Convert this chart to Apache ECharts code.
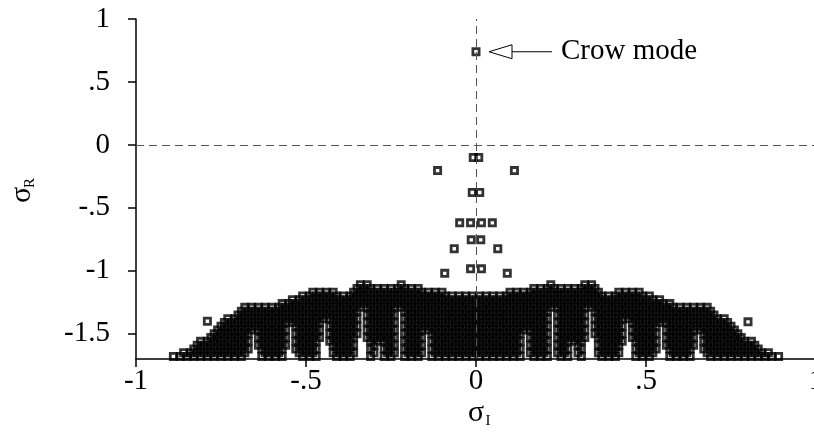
<!DOCTYPE html>
<html>
<head>
<meta charset="utf-8">
<script src="https://cdn.jsdelivr.net/npm/echarts@6/dist/echarts.min.js"></script>
<style>
html, body { margin: 0; padding: 0; background: #fff; }
#chart { width: 814px; height: 432px; }
</style>
</head>
<body>
<div id="chart"></div>
<script>
// Axis ticks and their printed labels
const xTicks = [-1, -0.5, 0, 0.5, 1];
const xTickLabels = ['-1', '-.5', '0', '.5', '1'];
const yTicks = [-1.5, -1, -0.5, 0, 0.5, 1];
const yTickLabels = ['-1.5', '-1', '-.5', '0', '.5', '1'];

// The unstable (crow) eigenvalue
const crowMode = [0, 0.74];

// Isolated stable eigenvalues above the main band (sigma_I, sigma_R)
const isoX = [0.008, -0.008, 0.113, -0.113, 0.011, -0.011, -0.048, -0.016, 0.016, 0.048,
  0.014, -0.014, 0.064, -0.064, 0.016, -0.016, 0.092, -0.092, -0.79, 0.80];
const isoY = [-0.10, -0.10, -0.204, -0.204, -0.378, -0.378, -0.619, -0.619, -0.619, -0.619,
  -0.754, -0.754, -0.825, -0.825, -0.984, -0.984, -1.02, -1.02, -1.40, -1.405];

// Dense band of eigenvalues, listed row by row: sigma_R of each row and its sigma_I values
const rowY = [-1.11, -1.14, -1.17, -1.20, -1.23, -1.26, -1.29, -1.32, -1.35, -1.38,
  -1.41, -1.44, -1.47, -1.50, -1.53, -1.56, -1.59, -1.62, -1.65, -1.68];
const rowX = [
  [-.34,-.32,-.22,.22,.32,.34],
  [-.35,-.33,-.31,-.29,-.27,-.25,-.23,-.21,-.19,-.17,.17,.19,.21,.23,.25,.27,.29,.31,.33,.35],
  [-.48,-.46,-.44,-.42,-.36,-.34,-.32,-.30,-.28,-.26,-.24,-.22,-.20,-.18,-.16,-.14,-.12,-.10,.10,.12,.14,.16,.18,.20,.22,.24,.26,.28,.30,.32,.34,.36,.42,.44,.46,.48],
  [-.51,-.49,-.47,-.45,-.43,-.41,-.39,-.37,-.35,-.33,-.31,-.29,-.27,-.25,-.23,-.21,-.19,-.17,-.15,-.13,-.11,-.09,-.07,-.05,-.03,-.01,.01,.03,.05,.07,.09,.11,.13,.15,.17,.19,.21,.23,.25,.27,.29,.31,.33,.35,.37,.39,.41,.43,.45,.47,.49,.51],
  [-.54,-.52,-.50,-.48,-.46,-.44,-.42,-.40,-.38,-.36,-.34,-.32,-.30,-.28,-.26,-.24,-.22,-.20,-.18,-.16,-.14,-.12,-.10,-.08,-.06,-.04,-.02,0,.02,.04,.06,.08,.10,.12,.14,.16,.18,.20,.22,.24,.26,.28,.30,.32,.34,.36,.38,.40,.42,.44,.46,.48,.50,.52,.54],
  [-.57,-.55,-.53,-.51,-.49,-.47,-.45,-.43,-.41,-.39,-.37,-.35,-.33,-.31,-.29,-.27,-.25,-.23,-.21,-.19,-.17,-.15,-.13,-.11,-.09,-.07,-.05,-.03,-.01,.01,.03,.05,.07,.09,.11,.13,.15,.17,.19,.21,.23,.25,.27,.29,.31,.33,.35,.37,.39,.41,.43,.45,.47,.49,.51,.53,.55,.57],
  [-.68,-.66,-.64,-.62,-.60,-.58,-.56,-.54,-.52,-.50,-.48,-.46,-.44,-.42,-.40,-.38,-.36,-.34,-.32,-.30,-.28,-.26,-.24,-.22,-.20,-.18,-.16,-.14,-.12,-.10,-.08,-.06,-.04,-.02,0,.02,.04,.06,.08,.10,.12,.14,.16,.18,.20,.22,.24,.26,.28,.30,.32,.34,.36,.38,.40,.42,.44,.46,.48,.50,.52,.54,.56,.58,.60,.62,.64,.66,.68],
  [-.69,-.67,-.65,-.63,-.61,-.59,-.57,-.55,-.53,-.51,-.49,-.47,-.45,-.43,-.41,-.39,-.37,-.35,-.31,-.29,-.27,-.25,-.21,-.19,-.17,-.15,-.13,-.11,-.09,-.07,-.05,-.03,-.01,.01,.03,.05,.07,.09,.11,.13,.15,.17,.19,.21,.25,.27,.29,.31,.35,.37,.39,.41,.43,.45,.47,.49,.51,.53,.55,.57,.59,.61,.63,.65,.67,.69],
  [-.70,-.68,-.66,-.64,-.62,-.60,-.58,-.56,-.54,-.52,-.50,-.48,-.46,-.44,-.42,-.40,-.38,-.36,-.32,-.30,-.28,-.26,-.24,-.20,-.18,-.16,-.14,-.12,-.10,-.08,-.06,-.04,-.02,0,.02,.04,.06,.08,.10,.12,.14,.16,.18,.20,.24,.26,.28,.30,.32,.36,.38,.40,.42,.44,.46,.48,.50,.52,.54,.56,.58,.60,.62,.64,.66,.68,.70],
  [-.73,-.71,-.69,-.67,-.65,-.63,-.61,-.59,-.57,-.55,-.53,-.51,-.49,-.47,-.45,-.43,-.41,-.39,-.37,-.35,-.31,-.29,-.27,-.25,-.21,-.19,-.17,-.15,-.13,-.11,-.09,-.07,-.05,-.03,-.01,.01,.03,.05,.07,.09,.11,.13,.15,.17,.19,.21,.25,.27,.29,.31,.35,.37,.39,.41,.43,.45,.47,.49,.51,.53,.55,.57,.59,.61,.63,.65,.67,.69,.71,.73],
  [-.74,-.72,-.70,-.68,-.66,-.64,-.62,-.60,-.58,-.56,-.54,-.52,-.50,-.48,-.46,-.42,-.40,-.38,-.36,-.32,-.30,-.28,-.26,-.24,-.20,-.18,-.16,-.14,-.12,-.10,-.08,-.06,-.04,-.02,0,.02,.04,.06,.08,.10,.12,.14,.16,.18,.20,.24,.26,.28,.30,.32,.36,.38,.40,.42,.46,.48,.50,.52,.54,.56,.58,.60,.62,.64,.66,.68,.70,.72,.74],
  [-.75,-.73,-.71,-.69,-.67,-.65,-.63,-.61,-.59,-.57,-.53,-.51,-.49,-.47,-.43,-.41,-.39,-.37,-.35,-.31,-.29,-.27,-.25,-.21,-.19,-.17,-.15,-.13,-.11,-.09,-.07,-.05,-.03,-.01,.01,.03,.05,.07,.09,.11,.13,.15,.17,.19,.21,.25,.27,.29,.31,.35,.37,.39,.41,.43,.47,.49,.51,.53,.57,.59,.61,.63,.65,.67,.69,.71,.73,.75],
  [-.76,-.74,-.72,-.70,-.68,-.66,-.64,-.62,-.60,-.58,-.56,-.52,-.50,-.48,-.46,-.42,-.40,-.38,-.36,-.32,-.30,-.28,-.26,-.24,-.20,-.18,-.16,-.14,-.12,-.10,-.08,-.06,-.04,-.02,0,.02,.04,.06,.08,.10,.12,.14,.16,.18,.20,.24,.26,.28,.30,.32,.36,.38,.40,.42,.46,.48,.50,.52,.56,.58,.60,.62,.64,.66,.68,.70,.72,.74,.76],
  [-.77,-.75,-.73,-.71,-.69,-.67,-.63,-.61,-.59,-.57,-.53,-.51,-.49,-.47,-.43,-.41,-.39,-.37,-.35,-.31,-.29,-.27,-.25,-.21,-.19,-.17,-.13,-.11,-.09,-.07,-.05,-.03,-.01,.01,.03,.05,.07,.09,.11,.13,.17,.19,.21,.25,.27,.29,.31,.35,.37,.39,.41,.43,.47,.49,.51,.53,.57,.59,.61,.63,.67,.69,.71,.73,.75,.77],
  [-.78,-.76,-.74,-.72,-.70,-.68,-.64,-.62,-.60,-.58,-.56,-.52,-.50,-.48,-.46,-.42,-.40,-.38,-.36,-.32,-.30,-.28,-.26,-.24,-.20,-.18,-.16,-.12,-.10,-.08,-.06,-.04,-.02,0,.02,.04,.06,.08,.10,.12,.16,.18,.20,.24,.26,.28,.30,.32,.36,.38,.40,.42,.46,.48,.50,.52,.56,.58,.60,.62,.64,.68,.70,.72,.74,.76,.78],
  [-.81,-.79,-.77,-.75,-.73,-.71,-.69,-.67,-.63,-.61,-.59,-.57,-.53,-.51,-.49,-.47,-.43,-.41,-.39,-.37,-.31,-.29,-.27,-.25,-.21,-.19,-.17,-.13,-.11,-.09,-.07,-.05,-.03,-.01,.01,.03,.05,.07,.09,.11,.13,.17,.19,.21,.25,.27,.29,.31,.37,.39,.41,.43,.47,.49,.51,.53,.57,.59,.61,.63,.67,.69,.71,.73,.75,.77,.79,.81],
  [-.82,-.80,-.78,-.76,-.74,-.72,-.70,-.68,-.64,-.62,-.60,-.58,-.56,-.52,-.50,-.48,-.42,-.40,-.38,-.36,-.30,-.26,-.24,-.20,-.18,-.16,-.12,-.10,-.08,-.06,-.04,-.02,0,.02,.04,.06,.08,.10,.12,.16,.18,.20,.24,.26,.30,.36,.38,.40,.42,.48,.50,.52,.56,.58,.60,.62,.64,.68,.70,.72,.74,.76,.78,.80,.82],
  [-.83,-.81,-.79,-.77,-.75,-.73,-.71,-.69,-.67,-.63,-.61,-.59,-.57,-.53,-.51,-.49,-.47,-.41,-.39,-.37,-.31,-.27,-.25,-.21,-.19,-.17,-.13,-.11,-.09,-.07,-.05,-.03,-.01,.01,.03,.05,.07,.09,.11,.13,.17,.19,.21,.25,.27,.31,.37,.39,.41,.47,.49,.51,.53,.57,.59,.61,.63,.67,.69,.71,.73,.75,.77,.79,.81,.83],
  [-.86,-.84,-.82,-.80,-.78,-.76,-.74,-.72,-.70,-.68,-.62,-.60,-.58,-.52,-.50,-.48,-.42,-.40,-.38,-.36,-.30,-.26,-.24,-.20,-.18,-.16,-.12,-.10,-.08,-.06,-.04,-.02,0,.02,.04,.06,.08,.10,.12,.16,.18,.20,.24,.26,.30,.36,.38,.40,.42,.48,.50,.52,.58,.60,.62,.68,.70,.72,.74,.76,.78,.80,.82,.84,.86],
  [-.89,-.87,-.85,-.83,-.81,-.79,-.77,-.75,-.73,-.71,-.69,-.63,-.61,-.59,-.57,-.51,-.49,-.47,-.41,-.39,-.37,-.31,-.27,-.25,-.21,-.19,-.17,-.13,-.11,-.09,-.07,-.05,-.03,-.01,.01,.03,.05,.07,.09,.11,.13,.17,.19,.21,.25,.27,.31,.37,.39,.41,.47,.49,.51,.57,.59,.61,.63,.69,.71,.73,.75,.77,.79,.81,.83,.85,.87,.89]
];

const SERIF = '"Liberation Serif", "Times New Roman", serif';

const points = [crowMode];
isoX.forEach((x, i) => points.push([x, isoY[i]]));
rowY.forEach((y, i) => rowX[i].forEach(x => points.push([x, y])));

function tickFormatter(ticks, labels) {
  return function (v) {
    const i = ticks.findIndex(t => Math.abs(t - v) < 1e-6);
    return i < 0 ? '' : labels[i];
  };
}

const axisLineStyle = { color: '#000', width: 1.5 };
const labelStyle = { color: '#000', fontFamily: SERIF, fontSize: 29 };

const chart = echarts.init(document.getElementById('chart'));

chart.setOption({
  animation: false,
  grid: { left: 136, right: -2, top: 19, bottom: 73, containLabel: false, outerBoundsMode: 'none' },
  xAxis: {
    type: 'value', min: -1, max: 1, interval: 0.5,
    axisLine: { onZero: false, lineStyle: axisLineStyle },
    axisTick: { show: true, length: 8, lineStyle: axisLineStyle },
    axisLabel: Object.assign({ margin: 8, showMinLabel: true, showMaxLabel: true, hideOverlap: false,
      formatter: tickFormatter(xTicks, xTickLabels) }, labelStyle),
    splitLine: { show: false }
  },
  yAxis: {
    type: 'value', min: -1.7, max: 1,
    axisLine: { onZero: false, lineStyle: axisLineStyle },
    axisTick: { show: true, length: 8, lineStyle: axisLineStyle, customValues: yTicks },
    axisLabel: Object.assign({ margin: 26, customValues: yTicks,
      formatter: tickFormatter(yTicks, yTickLabels) }, labelStyle),
    splitLine: { show: false }
  },
  series: [
    {
      // reference lines sigma_I = 0 and sigma_R = 0
      type: 'scatter', data: [], z: 1, silent: true,
      markLine: {
        silent: true, symbol: 'none', animation: false,
        label: { show: false },
        lineStyle: { color: '#555', width: 1, type: [8, 5] },
        data: [{ xAxis: 0 }, { yAxis: 0 }]
      }
    },
    {
      type: 'scatter', z: 2, silent: true,
      symbol: 'rect', symbolSize: 6.2,
      progressive: 0, large: false,
      itemStyle: { color: 'rgba(0,0,0,0)', borderColor: '#000', borderWidth: 2.8 },
      emphasis: { disabled: true },
      data: points
    }
  ]
});

// Axis titles and the crow-mode annotation
const crowPx = chart.convertToPixel({ gridIndex: 0 }, crowMode);
const ay = crowPx[1];
const tipX = crowPx[0] + 13;
const baseX = crowPx[0] + 36;
const tailX = crowPx[0] + 76;

chart.setOption({
  graphic: [
    {
      type: 'polygon', silent: true,
      shape: { points: [[tipX, ay], [baseX, ay - 7], [baseX, ay + 7]] },
      style: { fill: '#fff', stroke: '#000', lineWidth: 1 }
    },
    {
      type: 'line', silent: true,
      shape: { x1: baseX, y1: ay, x2: tailX, y2: ay },
      style: { stroke: '#000', lineWidth: 1.2 }
    },
    {
      type: 'text', silent: true, x: crowPx[0] + 85, y: ay,
      style: { text: 'Crow mode', font: '29px ' + SERIF, fill: '#000', verticalAlign: 'middle', align: 'left' }
    },
    {
      type: 'group', x: 476, y: 413, silent: true,
      children: [
        { type: 'text', x: 0, y: 0, style: { text: 'σ', font: '30px ' + SERIF, fill: '#000', align: 'center', verticalAlign: 'middle' } },
        { type: 'text', x: 12, y: 8, style: { text: 'I', font: '15px ' + SERIF, fill: '#000', align: 'center', verticalAlign: 'middle' } }
      ]
    },
    {
      type: 'group', x: 22, y: 195, rotation: Math.PI / 2, silent: true,
      children: [
        { type: 'text', x: 0, y: 0, style: { text: 'σ', font: '30px ' + SERIF, fill: '#000', align: 'center', verticalAlign: 'middle' } },
        { type: 'text', x: 12, y: 8, style: { text: 'R', font: '15px ' + SERIF, fill: '#000', align: 'center', verticalAlign: 'middle' } }
      ]
    }
  ]
});
</script>
</body>
</html>
